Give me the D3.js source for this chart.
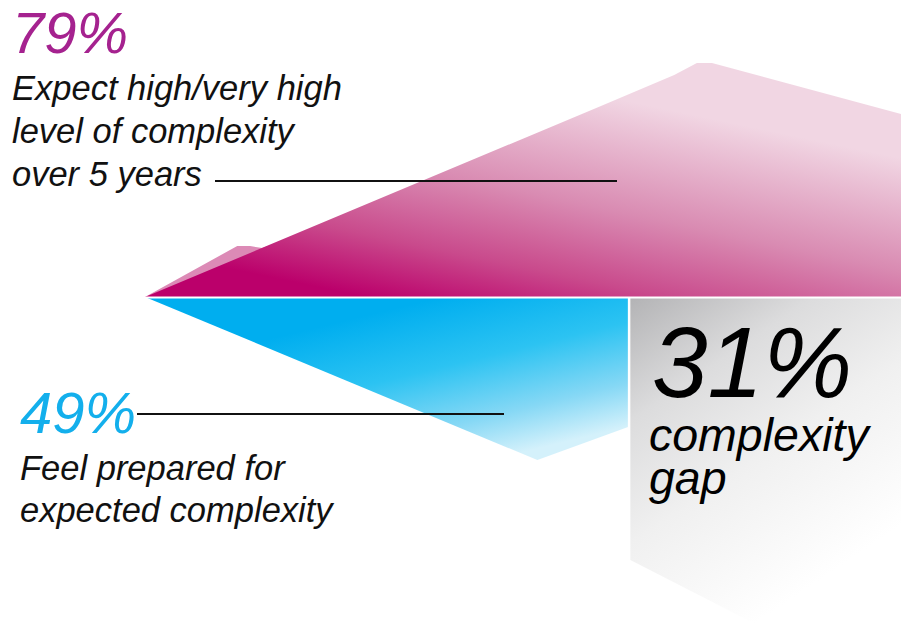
<!DOCTYPE html>
<html>
<head>
<meta charset="utf-8">
<script src="https://cdn.jsdelivr.net/npm/d3@7"></script>
<style>
  body { margin: 0; background: #fff; }
  text { font-family: "Liberation Sans", Arial, sans-serif; font-style: italic; }
</style>
</head>
<body>
<div id="chart"></div>
<script>
// horizontal steps (0-100) and heights of each shape
const expectSteps = [0, 60, 70, 73, 75, 100];
const expectValues = [0, 190, 222, 234, 234, 183];

const shadowSteps = [0, 12.2, 13.9, 15.5, 20.5];
const shadowValues = [0, 51, 51, 49, 62];

const preparedSteps = [0, 51.9, 63.9];
const preparedValues = [0, -163, -130];

const gapSteps = [64.2, 81, 100];
const gapLower = [-263, -328, -328];

const expectLabel = ["Expect high/very high", "level of complexity", "over 5 years"];
const preparedLabel = ["Feel prepared for", "expected complexity"];
const gapLabel = ["complexity", "gap"];

const width = 901, height = 625;

const svg = d3.select("#chart")
  .append("svg")
  .attr("width", width)
  .attr("height", height);

const x = d3.scaleLinear().domain([0, 100]).range([145, 901]);
const y = d3.scaleLinear().domain([0, 234]).range([297, 63]);

const defs = svg.append("defs");

function gradient(id, x1, y1, x2, y2, stops) {
  const g = defs.append("linearGradient")
    .attr("id", id)
    .attr("gradientUnits", "userSpaceOnUse")
    .attr("x1", x1).attr("y1", y1)
    .attr("x2", x2).attr("y2", y2);
  stops.forEach(s => g.append("stop").attr("offset", s[0]).attr("stop-color", s[1]));
}

gradient("pinkGrad", 380, 300, 430, 60, [[0, "#bb006b"], [0.25, "#c94a8c"], [0.55, "#d98bb2"], [1, "#f1d6e3"]]);
gradient("blueGrad", 430, 300, 470, 465, [[0, "#00aeef"], [0.4, "#2cc3f2"], [0.75, "#86d8f5"], [1, "#d4f1fb"]]);
gradient("grayGrad", 630, 298, 820, 580, [[0, "#b3b3b5"], [0.3, "#dcdcdd"], [0.6, "#f0f0f0"], [1, "#ffffff"]]);

const area = d3.area()
  .x(d => x(d[0]))
  .y0(y(0))
  .y1(d => y(d[1]));

// light shadow behind the main shape
svg.append("path")
  .datum(d3.zip(shadowSteps, shadowValues))
  .attr("d", area)
  .attr("fill", "#dc8ab6");

svg.append("path")
  .datum(d3.zip(expectSteps, expectValues))
  .attr("d", area)
  .attr("fill", "url(#pinkGrad)");

svg.append("path")
  .datum(d3.zip(preparedSteps, preparedValues))
  .attr("d", area)
  .attr("fill", "url(#blueGrad)");

// gap panel
svg.append("path")
  .datum(d3.zip(gapSteps, gapLower))
  .attr("d", area)
  .attr("fill", "url(#grayGrad)");

// white separators
svg.append("line")
  .attr("x1", x(0) - 5).attr("x2", x(100))
  .attr("y1", y(0) + 0.5).attr("y2", y(0) + 0.5)
  .attr("stroke", "#fff").attr("stroke-width", 2);
svg.append("line")
  .attr("x1", x(gapSteps[0]) - 1.5).attr("x2", x(gapSteps[0]) - 1.5)
  .attr("y1", y(0)).attr("y2", y(-140))
  .attr("stroke", "#fff").attr("stroke-width", 2);

// leader lines
svg.append("line")
  .attr("x1", 215).attr("x2", 617)
  .attr("y1", 181).attr("y2", 181)
  .attr("stroke", "#111").attr("stroke-width", 2);
svg.append("line")
  .attr("x1", 137).attr("x2", 504)
  .attr("y1", 414).attr("y2", 414)
  .attr("stroke", "#111").attr("stroke-width", 2);

// labels
svg.append("text")
  .attr("x", 12).attr("y", 53)
  .style("font-size", "58px")
  .attr("fill", "#a5228f")
  .text("79%");

svg.append("g").selectAll("text")
  .data(expectLabel)
  .join("text")
  .attr("x", 12)
  .attr("y", (d, i) => 100 + i * 43)
  .style("font-size", "34.5px")
  .attr("fill", "#111")
  .text(d => d);

svg.append("text")
  .attr("x", 20).attr("y", 433)
  .style("font-size", "58px")
  .attr("fill", "#13afec")
  .text("49%");

svg.append("g").selectAll("text")
  .data(preparedLabel)
  .join("text")
  .attr("x", 20)
  .attr("y", (d, i) => 480 + i * 42)
  .style("font-size", "34.5px")
  .attr("fill", "#111")
  .text(d => d);

svg.append("text")
  .attr("x", 652).attr("y", 397)
  .style("font-size", "100px")
  .attr("fill", "#000")
  .text("31%");

svg.append("g").selectAll("text")
  .data(gapLabel)
  .join("text")
  .attr("x", 649)
  .attr("y", (d, i) => 451 + i * 43)
  .style("font-size", "46.5px")
  .attr("fill", "#000")
  .text(d => d);
</script>
</body>
</html>
